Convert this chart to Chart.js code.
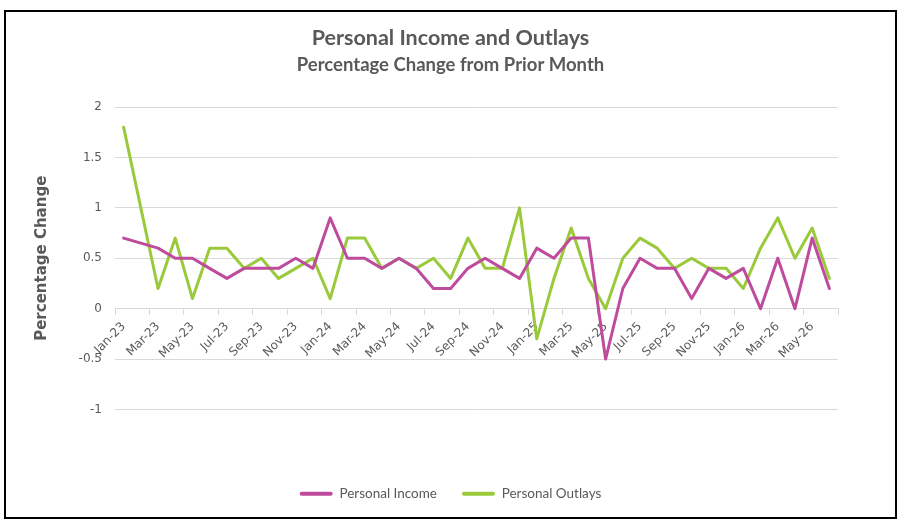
<!DOCTYPE html>
<html>
<head>
<meta charset="utf-8">
<script src="https://cdn.jsdelivr.net/npm/chart.js@4.4.1/dist/chart.umd.min.js"></script>
<style>
  html, body { margin: 0; padding: 0; background: #fff; }
  #wrap { width: 901px; height: 525px; position: relative; }
</style>
</head>
<body>
<div id="wrap"><canvas id="chart"></canvas></div>
<script>
const months = [
  'Jan-23', 'Feb-23', 'Mar-23', 'Apr-23', 'May-23', 'Jun-23', 'Jul-23', 'Aug-23', 'Sep-23', 'Oct-23', 'Nov-23', 'Dec-23',
  'Jan-24', 'Feb-24', 'Mar-24', 'Apr-24', 'May-24', 'Jun-24', 'Jul-24', 'Aug-24', 'Sep-24', 'Oct-24', 'Nov-24', 'Dec-24',
  'Jan-25', 'Feb-25', 'Mar-25', 'Apr-25', 'May-25', 'Jun-25', 'Jul-25', 'Aug-25', 'Sep-25', 'Oct-25', 'Nov-25', 'Dec-25',
  'Jan-26', 'Feb-26', 'Mar-26', 'Apr-26', 'May-26', 'Jun-26'
];
const personalIncome = [
  0.7, 0.65, 0.6, 0.5, 0.5, 0.4, 0.3, 0.4, 0.4, 0.4, 0.5, 0.4,
  0.9, 0.5, 0.5, 0.4, 0.5, 0.4, 0.2, 0.2, 0.4, 0.5, 0.4, 0.3,
  0.6, 0.5, 0.7, 0.7, -0.5, 0.2, 0.5, 0.4, 0.4, 0.1, 0.4, 0.3,
  0.4, 0.0, 0.5, 0.0, 0.7, 0.2
];
const personalOutlays = [
  1.8, 1.0, 0.2, 0.7, 0.1, 0.6, 0.6, 0.4, 0.5, 0.3, 0.4, 0.5,
  0.1, 0.7, 0.7, 0.4, 0.5, 0.4, 0.5, 0.3, 0.7, 0.4, 0.4, 1.0,
  -0.3, 0.3, 0.8, 0.3, 0.0, 0.5, 0.7, 0.6, 0.4, 0.5, 0.4, 0.4,
  0.2, 0.6, 0.9, 0.5, 0.8, 0.3
];
const yTickValues = [-1, -0.5, 0, 0.5, 1, 1.5, 2];

const textGrey = '#595959';
const gridGrey = '#d9d9d9';
const purple = '#bf4b9d';
const green = '#9aca3c';

// black frame round the whole picture
const framePlugin = {
  id: 'frame',
  afterDraw(chart) {
    const ctx = chart.ctx;
    ctx.save();
    ctx.strokeStyle = '#000';
    ctx.lineWidth = 2;
    ctx.strokeRect(5, 11, 891, 507);
    ctx.restore();
  }
};

const ctx = document.getElementById('chart').getContext('2d');
new Chart(ctx, {
  type: 'line',
  data: {
    labels: months,
    datasets: [{
      label: 'Personal Income',
      data: personalIncome,
      borderColor: purple,
      backgroundColor: purple,
      borderWidth: 3,
      pointRadius: 0,
      tension: 0,
      borderJoinStyle: 'round',
      borderCapStyle: 'round'
    }, {
      label: 'Personal Outlays',
      data: personalOutlays,
      borderColor: green,
      backgroundColor: green,
      borderWidth: 3,
      pointRadius: 0,
      tension: 0,
      borderJoinStyle: 'round',
      borderCapStyle: 'round'
    }]
  },
  options: {
    responsive: true,
    maintainAspectRatio: false,
    animation: false,
    layout: { padding: { left: 30, right: 30, top: 14, bottom: 14.5 } },
    scales: {
      x: {
        type: 'category',
        position: { y: 0 },
        offset: true,
        grid: {
          offset: true,
          drawOnChartArea: false,
          drawTicks: true,
          tickLength: 6,
          color: c => (c.index === undefined || c.index % 2 === 0) ? gridGrey : 'rgba(0,0,0,0)'
        },
        border: { display: true, color: gridGrey, width: 1 },
        ticks: {
          autoSkip: false,
          minRotation: 45,
          maxRotation: 45,
          padding: 5,
          color: textGrey,
          font: { family: 'DejaVu Sans', size: 12 },
          callback: (v, i) => i % 2 === 0 ? months[i] : ''
        }
      },
      y: {
        min: -1,
        max: 2,
        afterBuildTicks: s => { s.ticks = yTickValues.map(v => ({ value: v })); },
        afterFit: s => { s.width = 85; },
        grid: { color: gridGrey, drawTicks: false },
        border: { display: false },
        ticks: {
          padding: 13,
          color: textGrey,
          font: { family: 'DejaVu Sans', size: 12 },
          callback: v => String(v)
        },
        title: {
          display: true,
          text: 'Percentage Change',
          color: textGrey,
          font: { family: 'DejaVu Sans', size: 15, weight: 'bold' },
          padding: { top: 3, bottom: 0 }
        }
      },
      yRight: {
        type: 'linear',
        position: 'right',
        display: true,
        afterFit: s => { s.width = 33; },
        grid: { display: false },
        border: { display: false },
        ticks: { display: false }
      }
    },
    plugins: {
      title: {
        display: true,
        text: 'Personal Income and Outlays',
        color: textGrey,
        font: { family: 'Lato', size: 21.5, weight: 'bold' },
        padding: { top: 11, bottom: 0 }
      },
      subtitle: {
        display: true,
        text: 'Percentage Change from Prior Month',
        color: textGrey,
        font: { family: 'Lato', size: 18.5, weight: 'bold' },
        padding: { top: 3, bottom: 31 }
      },
      legend: {
        position: 'bottom',
        title: {
          display: true,
          text: ' ',
          font: { size: 10 },
          padding: 20.25
        },
        labels: {
          boxWidth: 33,
          boxHeight: 4,
          useBorderRadius: true,
          borderRadius: 2,
          padding: 25,
          color: textGrey,
          font: { family: 'Lato', size: 13.5 },
          generateLabels: chart =>
            Chart.defaults.plugins.legend.labels.generateLabels(chart).map(item => ({
              ...item,
              fillStyle: item.strokeStyle,
              lineWidth: 0
            }))
        }
      },
      tooltip: { enabled: false }
    }
  },
  plugins: [framePlugin]
});
</script>
</body>
</html>
